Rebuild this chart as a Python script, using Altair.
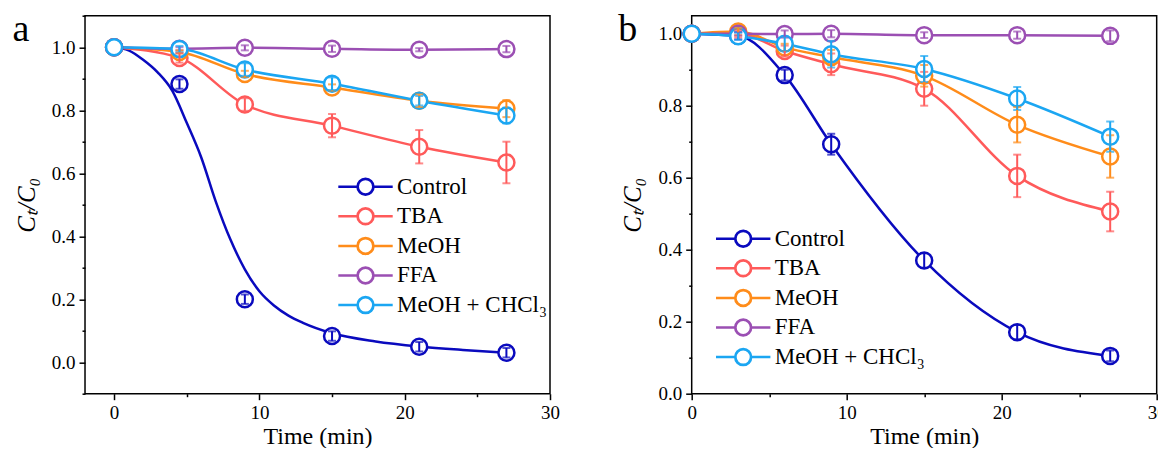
import altair as alt
import pandas as pd

series = ["Control", "TBA", "MeOH", "FFA", "MeOH + CHCl₃"]
colors = ["#0A0ABE", "#FF5A5A", "#FF8C1A", "#9B4FB3", "#1BA6F2"]

# ---------------- panel a ----------------
a_time = [0, 4.5, 9, 15, 21, 27]
a_control = [1.0, 0.883, 0.200, 0.083, 0.049, 0.030]
a_tba = [1.0, 0.966, 0.818, 0.751, 0.684, 0.634]
a_meoh = [1.0, 0.985, 0.915, 0.872, 0.830, 0.805]
a_ffa = [1.0, 0.995, 0.998, 0.995, 0.992, 0.994]
a_chcl3 = [1.0, 0.994, 0.929, 0.884, 0.830, 0.783]

a_control_err = [0, 0.015, 0.015, 0.015, 0.015, 0.015]
a_tba_err = [0, 0.015, 0.02, 0.037, 0.053, 0.066]
a_meoh_err = [0, 0.005, 0.01, 0.01, 0.02, 0.027]
a_ffa_err = [0, 0.005, 0.008, 0.01, 0.005, 0.01]
a_chcl3_err = [0, 0.01, 0.02, 0.02, 0.015, 0.025]

# fitted curve of the Control series in panel a
a_fit_time = [0, 1, 2, 3, 4, 5, 6, 7, 8, 9, 10, 11, 12, 13, 15, 18, 21, 24, 27]
a_fit_control = [1.0, 0.99, 0.96, 0.92, 0.862, 0.76, 0.65, 0.51, 0.39, 0.295,
                 0.225, 0.18, 0.148, 0.125, 0.092, 0.066, 0.05, 0.039, 0.03]

# ---------------- panel b ----------------
b_time = [0, 3, 6, 9, 15, 21, 27]
b_control = [1.0, 0.994, 0.885, 0.693, 0.370, 0.171, 0.105]
b_tba = [1.0, 1.0, 0.952, 0.915, 0.847, 0.605, 0.506]
b_meoh = [1.0, 1.006, 0.962, 0.935, 0.883, 0.747, 0.659]
b_ffa = [1.0, 1.0, 0.999, 1.0, 0.996, 0.996, 0.994]
b_chcl3 = [1.0, 0.993, 0.972, 0.943, 0.902, 0.820, 0.714]

b_control_err = [0, 0.01, 0.015, 0.029, 0.02, 0.02, 0.015]
b_tba_err = [0, 0.01, 0.015, 0.03, 0.047, 0.059, 0.055]
b_meoh_err = [0, 0.01, 0.01, 0.02, 0.03, 0.049, 0.059]
b_ffa_err = [0, 0.005, 0.01, 0.01, 0.008, 0.01, 0.015]
b_chcl3_err = [0, 0.01, 0.02, 0.037, 0.036, 0.032, 0.042]

a_x_ticks = [0, 5, 10, 15, 20, 25, 30]
a_y_ticks = [round(-0.1 + 0.1 * i, 1) for i in range(13)]
b_x_ticks = [0, 5, 10, 15, 20, 25, 30]
b_y_ticks = [round(0.1 * i, 1) for i in range(11)]

FONT = "Liberation Serif"
# legend glyph: line stubs and a hollow ring (outer + reversed inner circle,
# so only a thin annulus can ever be filled)
LEG_PATH = ("M-3.4,0L-1,0M1,0L3.4,0"
            "M-1,0A1,1,0,1,0,1,0A1,1,0,1,0,-1,0Z"
            "M-0.97,0A0.97,0.97,0,1,1,0.97,0A0.97,0.97,0,1,1,-0.97,0Z")


def frame(time, vals, errs):
    rows = []
    for s, v, e in zip(series, vals, errs):
        for t, y, d in zip(time, v, e):
            rows.append({"series": s, "order": series.index(s), "t": t, "v": y,
                         "lo": y - d, "hi": y + d, "err": d})
    return pd.DataFrame(rows)


def panel(df, line_df, xdom, ydom, xticks, yticks, letter, lx, ly, letter_x):
    xs = alt.Scale(domain=xdom, nice=False, zero=False)
    ys = alt.Scale(domain=ydom, nice=False, zero=False)
    cs = alt.Scale(domain=series, range=colors)
    leg = alt.Legend(orient="none", legendX=lx, legendY=ly, title=None,
                     symbolType=LEG_PATH, symbolSize=256, symbolStrokeWidth=2.5,
                     symbolFillColor="white", labelFont=FONT, labelFontSize=23,
                     labelColor="black", labelOffset=20, rowPadding=2.6, padding=0)
    major_y = "round(datum.value*10) % 2 === 0"
    major_x = "datum.value % 10 === 0"
    xax = alt.Axis(values=xticks, title="Time (min)", grid=False, domain=False,
                   labelExpr=f"{major_x} ? datum.label : ''",
                   tickSize={"condition": {"test": major_x, "value": 6}, "value": 3},
                   labelFlush=False, labelOverlap=False, labelPadding=4,
                   titlePadding=2, titleFontSize=24)
    yax = alt.Axis(values=yticks, title="Cₜ/C₀", grid=False, domain=False,
                   labelExpr=f"{major_y} ? format(datum.value, '.1f') : ''",
                   tickSize={"condition": {"test": major_y, "value": 6}, "value": 3},
                   labelFlush=False, labelOverlap=False, titleFontStyle="italic",
                   labelPadding=4, titlePadding=12, titleFontSize=25)
    x = alt.X("t:Q", scale=xs, axis=xax)
    y = alt.Y("v:Q", scale=ys, axis=yax)
    stroke_leg = alt.Stroke("series:N", scale=cs, legend=leg)
    stroke_nl = alt.Stroke("series:N", scale=cs, legend=None)
    color_nl = alt.Color("series:N", scale=cs, legend=None)

    lines = alt.Chart(line_df).mark_line(strokeWidth=2.5, interpolate="monotone").encode(
        x=x, y=y, stroke=stroke_leg, detail="series:N", order="t:Q")
    pts = alt.Chart(df).mark_point(shape="circle", filled=False, fill="white",
                                   fillOpacity=1, opacity=1, size=256,
                                   strokeWidth=2.5).encode(
        x=x, y=y, stroke=stroke_nl, order="order:Q")
    errdf = df[df["err"] > 0]
    eb = alt.Chart(errdf).mark_errorbar(ticks={"size": 8}, thickness=2).encode(
        x=x, y=alt.Y("lo:Q", scale=ys, axis=yax), y2="hi:Q", color=color_nl)
    lab = alt.Chart(pd.DataFrame({"l": [letter]})).mark_text(
        font=FONT, fontSize=38, baseline="alphabetic", align="center", color="black"
    ).encode(text="l:N", x=alt.value(letter_x), y=alt.value(25))
    return alt.layer(lines, pts, eb, lab).properties(width=465, height=378)


a_df = frame(a_time, [a_control, a_tba, a_meoh, a_ffa, a_chcl3],
             [a_control_err, a_tba_err, a_meoh_err, a_ffa_err, a_chcl3_err])
a_lines = pd.concat([
    pd.DataFrame({"series": "Control", "t": a_fit_time, "v": a_fit_control}),
    a_df[a_df["series"] != "Control"][["series", "t", "v"]],
])
b_df = frame(b_time, [b_control, b_tba, b_meoh, b_ffa, b_chcl3],
             [b_control_err, b_tba_err, b_meoh_err, b_ffa_err, b_chcl3_err])
b_lines = b_df[["series", "t", "v"]]

pa = panel(a_df, a_lines, [-2, 30], [-0.1, 1.1], a_x_ticks, a_y_ticks, "a", 269, 159.5, -64)
pb = panel(b_df, b_lines, [0, 30], [0, 1.05], b_x_ticks, b_y_ticks, "b", 40, 211.5, -64)

chart = alt.hconcat(pa, pb, spacing=55.7).resolve_scale(
    color="independent", stroke="independent"
).resolve_legend(color="independent", stroke="independent").properties(
    padding={"left": 3, "top": -2.3, "right": -9, "bottom": -2}
).configure_view(stroke="black", strokeWidth=1.5).configure_axis(
    labelFont=FONT, labelFontSize=19, labelColor="black", tickColor="black",
    tickWidth=1.5, titleFont=FONT, titleFontWeight="normal", titleColor="black"
)

chart.save("out.html", embed_options={"renderer": "svg", "actions": False})
